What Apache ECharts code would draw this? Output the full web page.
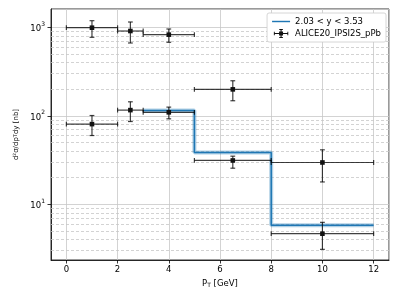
<!DOCTYPE html>
<html>
<head>
<meta charset="utf-8">
<script src="https://cdn.jsdelivr.net/npm/echarts@6/dist/echarts.min.js"></script>
<style>html,body{margin:0;padding:0;background:#fff;}#c{width:399px;height:299px;}</style>
</head>
<body>
<div id="c"></div>
<script>
// Data points (ALICE20_IPSI2S_pPb)
const xCenter = [1, 2.5, 4, 6.5, 10, 1, 2.5, 4, 6.5, 10];
const xLow    = [0, 2, 3, 5, 8, 0, 2, 3, 5, 8];
const xHigh   = [2, 3, 5, 8, 12, 2, 3, 5, 8, 12];
const yVal    = [990, 908, 826, 199, 29.7, 80.6, 116, 109.5, 31.3, 4.66];
const yLow    = [771, 665, 677, 148, 17.9, 59.9, 86.2, 92.5, 25.6, 3.10];
const yHigh   = [1188, 1148, 957, 249, 41.3, 100.8, 144, 125.4, 35.0, 6.26];
// Prediction step histogram (2.03 < y < 3.53)
const stepEdges = [3, 5, 8, 12];
const stepVals  = [115, 38.5, 5.8];
// Minor (dashed) log grid values
const minorGrid = [3,4,5,6,7,8,9,20,30,40,50,60,70,80,90,200,300,400,500,600,700,800,900];

const FONT = 'DejaVu Sans';
const stepData = stepEdges.map((e, i) => [e, stepVals[Math.min(i, stepVals.length - 1)]]);
const errData = xCenter.map((x, i) => [x, xLow[i], xHigh[i], yVal[i], yLow[i], yHigh[i]]);

const chart = echarts.init(document.getElementById('c'), null, {renderer: 'canvas'});
const errColor = 'rgba(0,0,0,0.75)';
const option = {
  animation: false,
  grid: {left: 51, right: 10, top: 9, bottom: 39, show: true, borderColor: '#000', borderWidth: 0.8},
  legend: {
    right: 13, top: 13, orient: 'vertical', itemGap: 3, padding: [4, 5, 4, 5],
    itemWidth: 18, itemHeight: 9,
    backgroundColor: '#fff', borderColor: '#cccccc', borderWidth: 0.8, borderRadius: 2,
    textStyle: {fontFamily: FONT, fontSize: 8.5, color: '#000'},
    data: [
      {name: '2.03 < y < 3.53', icon: 'path://M0,4.2h20v1.6h-20z'},
      {name: 'ALICE20_IPSI2S_pPb', icon: 'path://M2,4.4h16v1.2h-16z M9.4,0h1.2v10h-1.2z M7.8,2.8h4.4v4.4h-4.4z M2,3h1v4h-1z M17,3h1v4h-1z M8,0h4v1h-4z M8,9h4v1h-4z'}
    ]
  },
  xAxis: {
    type: 'value', min: -0.6, max: 12.6, splitNumber: 7,
    name: 'P{s|T} [GeV]', nameLocation: 'middle', nameGap: 18,
    nameTextStyle: {fontFamily: FONT, fontSize: 8.5, color: '#000', fontStyle: 'normal',
      rich: {s: {fontFamily: FONT, fontSize: 6, verticalAlign: 'bottom', padding: [4, 0, 0, 0]}}},
    axisLine: {onZero: false, lineStyle: {color: '#000', width: 0.8}},
    axisTick: {show: true, length: 3.5, lineStyle: {color: '#000', width: 0.8}},
    axisLabel: {showMinLabel: false, showMaxLabel: false, fontFamily: FONT, fontSize: 8.5, color: '#000', margin: 5},
    splitLine: {show: true, lineStyle: {color: '#c8c8c8', width: 0.8}}
  },
  yAxis: {
    type: 'log', logBase: 10, min: 2.35, max: 1610,
    name: 'd²σ/dp{s|T}dy [nb]', nameLocation: 'middle', nameGap: 30, nameRotate: 90,
    nameTextStyle: {fontFamily: FONT, fontSize: 7, color: '#000',
      rich: {s: {fontFamily: FONT, fontSize: 5}}},
    axisLine: {onZero: false, lineStyle: {color: '#000', width: 0.8}},
    axisTick: {show: true, length: 3.5, lineStyle: {color: '#000', width: 0.8}},
    axisLabel: {
      showMinLabel: false, showMaxLabel: false, margin: 6, fontFamily: FONT, fontSize: 8.5, color: '#000',
      formatter: function (v) {
        const e = Math.round(Math.log10(v));
        if (Math.abs(v - Math.pow(10, e)) / v > 1e-6) return '';
        return '{b|10}{p|' + e + '}';
      },
      rich: {
        b: {fontFamily: FONT, fontSize: 8.5, color: '#000', verticalAlign: 'bottom', lineHeight: 12},
        p: {fontFamily: FONT, fontSize: 6, color: '#000', verticalAlign: 'top', lineHeight: 12}
      }
    },
    splitLine: {show: true, lineStyle: {color: '#c8c8c8', width: 0.8}}
  },
  series: [
    {
      name: 'band', type: 'line', step: 'end', data: stepData, symbol: 'none', silent: true,
      lineStyle: {color: 'rgba(31,119,180,0.35)', width: 4}, z: 2,
      markLine: {
        silent: true, symbol: 'none', label: {show: false},
        lineStyle: {color: '#c8c8c8', width: 0.8, type: [3, 2]},
        data: minorGrid.map(v => ({yAxis: v})), z: 1
      }
    },
    {
      name: '2.03 < y < 3.53', type: 'line', step: 'end', data: stepData, symbol: 'none',
      itemStyle: {color: '#1f77b4'}, lineStyle: {color: '#1f77b4', width: 1.5}, z: 3
    },
    {
      name: 'ALICE20_IPSI2S_pPb', type: 'custom', data: errData, z: 4,
      itemStyle: {color: '#111'},
      encode: {x: [0, 1, 2], y: [3, 4, 5]},
      renderItem: function (params, api) {
        const c = api.coord([api.value(0), api.value(3)]);
        const l = api.coord([api.value(1), api.value(3)]);
        const r = api.coord([api.value(2), api.value(3)]);
        const lo = api.coord([api.value(0), api.value(4)]);
        const hi = api.coord([api.value(0), api.value(5)]);
        const cap = 2.4;
        const st = {stroke: errColor, lineWidth: 1.2, fill: null};
        const ln = (x1, y1, x2, y2) => ({type: 'line', shape: {x1, y1, x2, y2}, style: st});
        return {
          type: 'group',
          children: [
            ln(l[0], c[1], r[0], c[1]),
            ln(c[0], lo[1], c[0], hi[1]),
            ln(l[0], c[1] - cap, l[0], c[1] + cap),
            ln(r[0], c[1] - cap, r[0], c[1] + cap),
            ln(c[0] - cap, lo[1], c[0] + cap, lo[1]),
            ln(c[0] - cap, hi[1], c[0] + cap, hi[1]),
            {type: 'rect', shape: {x: c[0] - 2.3, y: c[1] - 2.3, width: 4.6, height: 4.6}, style: {fill: '#111'}}
          ]
        };
      }
    }
  ]
};
chart.setOption(option);
</script>
</body>
</html>
